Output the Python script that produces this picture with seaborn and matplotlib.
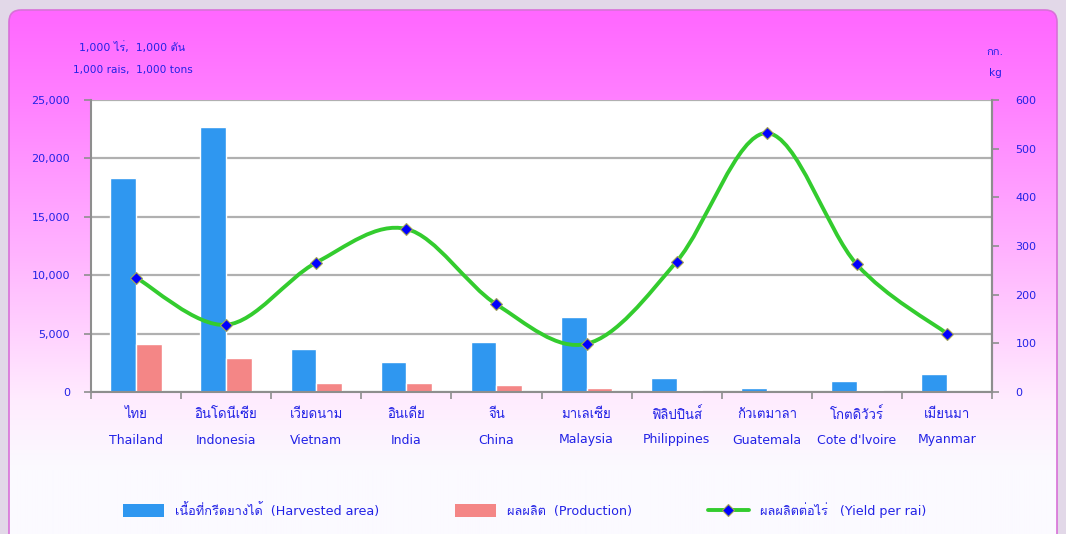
import numpy as np
import pandas as pd
import matplotlib
matplotlib.use("Agg")
import matplotlib.pyplot as plt
import seaborn as sns
from matplotlib import font_manager
from matplotlib.path import Path
from matplotlib.patches import PathPatch, FancyBboxPatch, Patch
from matplotlib.lines import Line2D
from matplotlib.ticker import FuncFormatter, MultipleLocator

# ---------------- data ----------------
countries_th = ["ไทย", "อินโดนีเซีย", "เวียดนาม", "อินเดีย", "จีน",
                "มาเลเซีย", "ฟิลิปปินส์", "กัวเตมาลา", "โกตดิวัวร์", "เมียนมา"]
countries_en = ["Thailand", "Indonesia", "Vietnam", "India", "China",
                "Malaysia", "Philippines", "Guatemala", "Cote d'lvoire", "Myanmar"]
harvested = [18300, 22700, 3700, 2600, 4300, 6450, 1240, 380, 900, 1580]
production = [4150, 2950, 810, 730, 640, 380, 200, 100, 150, 100]
yield_rai = [235, 138, 266, 335, 180, 99, 268, 532, 262, 120]

series_names = ["เนื้อที่กรีดยางได้  (Harvested area)", "ผลผลิต  (Production)"]
line_name = "ผลผลิตต่อไร่   (Yield per rai)"

# ---------------- fonts ----------------
sns.set_theme(style="white")
installed = set(font_manager.fontManager.get_font_names())
thai_font = None
for cand in ["Tahoma", "Loma", "Garuda", "Noto Sans Thai Looped", "Sarabun",
             "Noto Sans Thai", "Bai Jamjuree", "Athiti"]:
    if cand in installed:
        thai_font = cand
        break
fams = ["DejaVu Sans"] + ([thai_font] if thai_font else [])
plt.rcParams["font.family"] = fams

TXT = "#2222e6"
BLUE = "#2f97f0"
RED = "#f48686"
GREEN = "#33cc2e"
GRAY = "#8e8e8e"

W, H = 1066, 534
fig = plt.figure(figsize=(W / 100, H / 100), dpi=100)
fig.patch.set_facecolor("#e2d8e8")

# ---------------- background panel ----------------
bg = fig.add_axes([0, 0, 1, 1], zorder=0)
bg.set_axis_off()
bg.set_xlim(0, W)
bg.set_ylim(H, 0)
rows = np.arange(H)
stops_y = [0, 20, 100, 250, 400, 470, H]
stops_c = np.array([[255, 100, 255], [255, 105, 255], [255, 128, 255],
                    [255, 178, 255], [255, 236, 254], [251, 250, 255], [251, 250, 255]]) / 255.0
grad = np.stack([np.interp(rows, stops_y, stops_c[:, k]) for k in range(3)], axis=1)
img = np.repeat(grad[:, None, :], 10, axis=1)
im = bg.imshow(img, extent=(0, W, H, 0), aspect="auto", interpolation="bilinear")
panel = FancyBboxPatch((9, 10), W - 18, H + 40, boxstyle="round,pad=0,rounding_size=12",
                       transform=bg.transData, facecolor="none", edgecolor="#d870d8", lw=1.2)
bg.add_patch(panel)
im.set_clip_path(panel)

# ---------------- main axes ----------------
ax = fig.add_axes([91 / W, (H - 392) / H, 901 / W, 292 / H], zorder=2)
ax.set_facecolor("white")

df = pd.DataFrame({
    "country": countries_en * 2,
    "series": [series_names[0]] * len(countries_en) + [series_names[1]] * len(countries_en),
    "value": harvested + production,
})
sns.barplot(data=df, x="country", y="value", hue="series", order=countries_en,
            hue_order=series_names, palette=[BLUE, RED], saturation=1,
            width=0.57, gap=0, legend=False, ax=ax, errorbar=None)

ax.set_xlim(-0.5, len(countries_en) - 0.5)
ax.set_ylim(0, 25000)
ax.yaxis.set_major_locator(MultipleLocator(5000))
ax.yaxis.set_major_formatter(FuncFormatter(lambda v, p: f"{int(v):,}"))
ax.yaxis.grid(True, color="#b0b0b0", lw=1.6)
ax.xaxis.grid(False)
ax.set_axisbelow(True)
ax.set_xlabel("")
ax.set_ylabel("")
ax.set_xticks(range(len(countries_en)))
ax.set_xticklabels([])
ax.set_xticks(np.arange(-0.5, len(countries_en), 1), minor=True)
ax.tick_params(axis="x", which="major", length=0)
ax.tick_params(axis="x", which="minor", length=5, width=1.2, color=GRAY, bottom=True)
ax.tick_params(axis="y", which="major", length=5, width=1.2, color=GRAY, left=True,
               pad=10, labelsize=8, labelcolor=TXT)
for s in ["left", "bottom", "right"]:
    ax.spines[s].set_color(GRAY)
    ax.spines[s].set_linewidth(1.5)
ax.spines["top"].set_visible(False)

xt = ax.get_xaxis_transform()
for i, (t, e) in enumerate(zip(countries_th, countries_en)):
    ax.text(i, -23 / 292, t, transform=xt, ha="center", va="center",
            fontsize=9.5, color=TXT)
    ax.text(i, -48 / 292, e, transform=xt, ha="center", va="center",
            fontsize=9, color=TXT)

# ---------------- secondary axis with smooth line ----------------
ax2 = ax.twinx()
ax2.set_ylim(0, 600)
ax2.yaxis.set_major_locator(MultipleLocator(100))
ax2.grid(False)
ax2.tick_params(axis="y", length=5, width=1.2, color=GRAY, right=True, pad=12,
                labelsize=8, labelcolor=TXT)
for s in ["left", "bottom", "top"]:
    ax2.spines[s].set_visible(False)
ax2.spines["right"].set_color(GRAY)
ax2.spines["right"].set_linewidth(1.5)

pts = np.column_stack([np.arange(len(yield_rai)), np.array(yield_rai, float)])
n = len(pts)
verts = [pts[0]]
codes = [Path.MOVETO]
for i in range(n - 1):
    p0 = pts[i - 1] if i > 0 else pts[i]
    p1 = pts[i]
    p2 = pts[i + 1]
    p3 = pts[i + 2] if i + 2 < n else pts[i + 1]
    verts += [p1 + (p2 - p0) / 6.0, p2 - (p3 - p1) / 6.0, p2]
    codes += [Path.CURVE4] * 3
ax2.add_patch(PathPatch(Path(verts, codes), facecolor="none", edgecolor=GREEN,
                        lw=2.8, capstyle="round", joinstyle="round", zorder=4))
ax2.plot(np.arange(n), yield_rai, ls="none", marker="D", ms=6, mfc="#0000ff",
         mec="#a4a458", mew=0.8, zorder=5)

# ---------------- unit labels ----------------
fig.text(132 / W, 1 - 47 / H, "1,000 ไร่,  1,000 ตัน", ha="center", va="center",
         fontsize=7.8, color=TXT)
fig.text(133 / W, 1 - 70 / H, "1,000 rais,  1,000 tons", ha="center", va="center",
         fontsize=7.6, color=TXT)
fig.text(995 / W, 1 - 52 / H, "กก.", ha="center", va="center", fontsize=8, color=TXT)
fig.text(995 / W, 1 - 73 / H, "kg", ha="center", va="center", fontsize=7.6, color=TXT)

# ---------------- legend ----------------
handles = [Patch(facecolor=BLUE, edgecolor="none"),
           Patch(facecolor=RED, edgecolor="none"),
           Line2D([], [], color=GREEN, lw=2.8, marker="D", ms=6, mfc="#0000ff",
                  mec="#a4a458", mew=0.8)]
leg = fig.legend(handles, series_names + [line_name], loc="center left",
                 bbox_to_anchor=(123 / W, 1 - 510 / H), ncol=3, frameon=False,
                 fontsize=9.2, handlelength=3.2, handleheight=1.1, handletextpad=0.9,
                 columnspacing=5.9, borderpad=0, borderaxespad=0)
for t in leg.get_texts():
    t.set_color(TXT)

fig.savefig("out.png", dpi=100, facecolor=fig.get_facecolor())
